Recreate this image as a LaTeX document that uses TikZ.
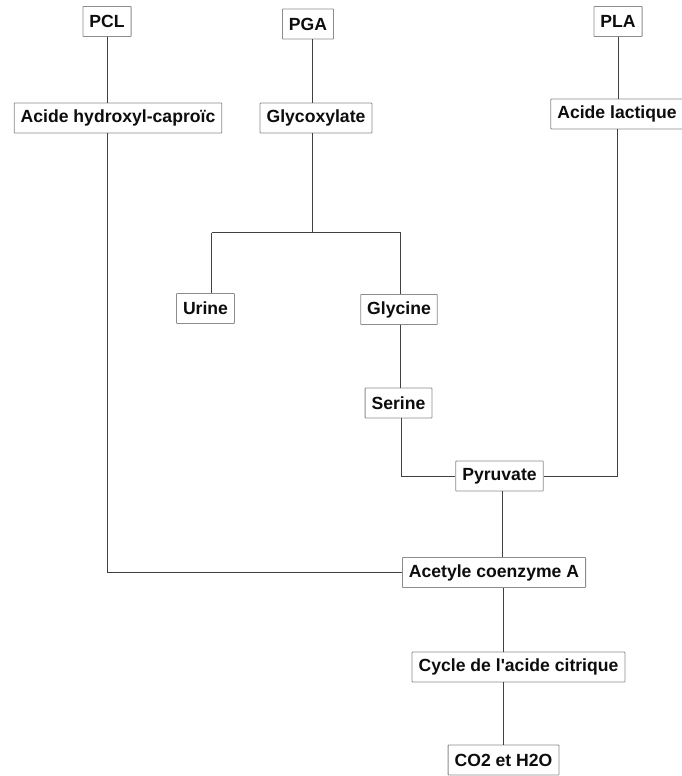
\documentclass[tikz,border=0pt]{standalone}
\usepackage{fontspec}
\setmainfont{Liberation Sans}[Ligatures=TeXOff]
\begin{document}
\begin{tikzpicture}[x=1pt,y=-1pt,
  box/.style={draw=black!45, fill=white, line width=0.8pt, rounded corners=0.6pt,
    font=\fontsize{17.6}{19}\selectfont\bfseries, text=black!95, inner xsep=6.5pt, minimum height=30pt, inner ysep=0pt},
  conn/.style={draw=black!75, line width=0.9pt}]
\useasboundingbox[fill=white] (0,0) rectangle (681,776);
\node[box] (pcl) at (107,21.5) {PCL};
\node[box] (pga) at (308,24) {PGA};
\node[box] (pla) at (618,21.5) {PLA};
\node[box] (cap) at (118,118) {Acide hydroxyl-caproïc};
\node[box] (gly) at (316,118) {Glycoxylate};
\node[box] (lac) at (617,114) {Acide lactique};
\node[box] (urine) at (205.5,308.5) {Urine};
\node[box] (glycine) at (399,309.5) {Glycine};
\node[box] (serine) at (398.5,403) {Serine};
\node[box] (pyr) at (499.5,476) {Pyruvate};
\node[box] (acetyl) at (494,572.5) {Acetyle coenzyme A};
\node[box] (cycle) at (518.5,667) {Cycle de l'acide citrique};
\node[box] (co2) at (503.5,760) {CO2 et H2O};
\coordinate (j) at (312.5,232.5);
\coordinate (jl) at (211.5,232.5);
\coordinate (jr) at (400.5,232.5);
\coordinate (sx) at (401.5,0);
\coordinate (px) at (502,0);
\coordinate (ax) at (503,0);
\draw[conn] (pcl.south) -- (pcl.south |- cap.north);
\draw[conn] (pcl.south |- cap.south) |- (acetyl.west);
\draw[conn] (pga.south -| j) -- (gly.north -| j);
\draw[conn] (gly.south -| j) -- (j);
\draw[conn] (jl) -- (jr);
\draw[conn] (jl) -- (jl |- urine.north);
\draw[conn] (jr) -- (jr |- glycine.north);
\draw[conn] (glycine.south -| jr) -- (serine.north -| jr);
\draw[conn] (serine.south -| sx) |- (pyr.west);
\draw[conn] (pyr.east) -| (lac.south);
\draw[conn] (pla.south) -- (pla.south |- lac.north);
\draw[conn] (pyr.south -| px) -- (acetyl.north -| px);
\draw[conn] (acetyl.south -| ax) -- (cycle.north -| ax);
\draw[conn] (cycle.south -| ax) -- (co2.north -| ax);
\end{tikzpicture}
\end{document}
